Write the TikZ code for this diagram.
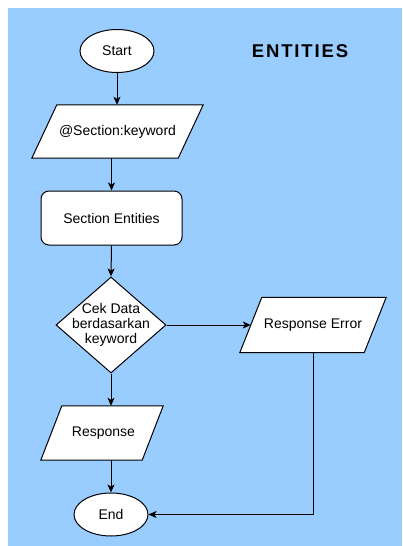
\documentclass[tikz,border=0pt]{standalone}
\usepackage{fontspec}
\setmainfont{Liberation Sans}
\newfontfamily\titlefont[LetterSpace=10]{Liberation Sans}
\usetikzlibrary{shapes.geometric,arrows.meta,calc}
\definecolor{bgblue}{HTML}{99CCFF}
\begin{document}
\begin{tikzpicture}[x=1pt,y=-1pt,
  txt/.style={font=\fontsize{14}{15}\selectfont,inner sep=0pt},
  base/.style={txt,draw=black,fill=white,line width=1pt},
  term/.style={base,ellipse,minimum width=74pt,minimum height=43pt},
  iobox/.style={txt,rectangle},
  shapeline/.style={draw=black,fill=white,line width=1pt},
  decision/.style={base,diamond,minimum width=110pt,minimum height=96pt},
  procbox/.style={base,rectangle,rounded corners=8pt,minimum width=141pt,minimum height=54pt},
  arr/.style={line width=1pt,-{Stealth[length=8pt,width=7pt,inset=2pt]}}]
\useasboundingbox (0,0) rectangle (402,546);
\fill[bgblue] (8,8) rectangle (402,546);

\node[font=\titlefont\bfseries\fontsize{18.5}{22}\selectfont] (title) at (300,51) {ENTITIES};

\node[term] (start) at (117,51) {Start};

% @Section:keyword
\node[iobox,minimum width=171pt,minimum height=53pt] (p1) at (117.5,131.5) {};
\draw[shapeline] (p1.south west) -- ($(p1.north west)+(25,0)$) -- (p1.north east) -- ($(p1.south east)-(25,0)$) -- cycle;
\node[txt] at (p1) {@Section:keyword};

\node[procbox] (sec) at (111.5,218) {Section Entities};

\node[decision] (dia) at (111,325) {};
\node[txt,align=center] (diatext) at (dia) {Cek Data\\berdasarkan\\keyword};

% Response Error
\node[iobox,minimum width=146pt,minimum height=55pt] (err) at (313,325) {};
\draw[shapeline] (err.south west) -- ($(err.north west)+(22,0)$) -- (err.north east) -- ($(err.south east)-(22,0)$) -- cycle;
\node[txt] at (err) {Response Error};

% Response
\node[iobox,minimum width=122pt,minimum height=54pt] (resp) at (102,433) {};
\draw[shapeline] (resp.south west) -- ($(resp.north west)+(21,0)$) -- (resp.north east) -- ($(resp.south east)-(21,0)$) -- cycle;
\node[txt] at ($(resp)+(1.5,0)$) {Response};

\node[term] (end) at (111,514.5) {End};

\draw[arr] (start.south) -- (start.south |- p1.north);
\draw[arr] (sec.north |- p1.south) -- (sec.north);
\draw[arr] (sec.south) -- (dia.north);
\draw[arr] (dia.east) -- ($(err.west)+(11,0)$);
\draw[arr] (dia.south) -- (dia.south |- resp.north);
\draw[arr] (end.north |- resp.south) -- (end.north);
\draw[arr] (err.south) |- (end.east);
\end{tikzpicture}
\end{document}
